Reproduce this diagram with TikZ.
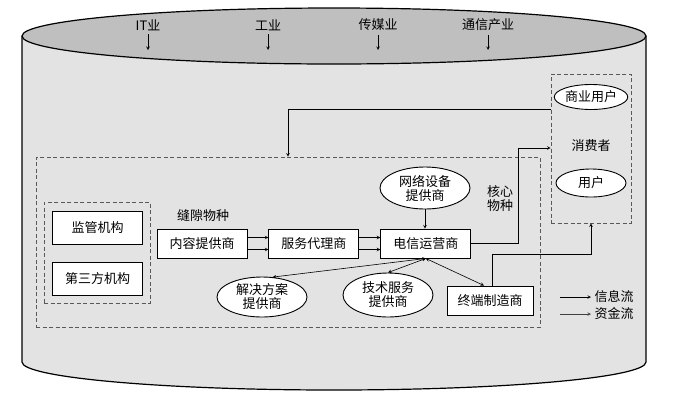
\documentclass[tikz,border=0pt]{standalone}
\usepackage{fontspec}
\newfontfamily\cjk{Noto Sans CJK SC}
\usetikzlibrary{positioning}
\usetikzlibrary{shapes.geometric}

\begin{document}
\begin{tikzpicture}[
    x=1pt, y=-1pt, % pixel-like units, y grows downwards
    >=stealth, % arrow head style
    node distance=21pt, % spacing of the value chain
    font=\cjk\fontsize{13}{14}\selectfont,
    % Styling for the nodes
    roleBox/.style={
        rectangle,
        draw,
        line width=0.9pt,
        fill=white,
        minimum width=90pt,
        minimum height=29pt,
        inner sep=2pt
    },
    roleOval/.style={
        ellipse,
        draw,
        line width=0.9pt,
        fill=white,
        minimum width=90pt,
        minimum height=42pt,
        inner sep=0pt,
        align=center
    },
    userOval/.style={roleOval, minimum width=70pt, minimum height=25pt},
    groupBox/.style={
        rectangle,
        draw=black!65,
        dash pattern=on 4pt off 2.5pt,
        line width=0.7pt,
        inner sep=0pt
    },
    flow/.style={->, line width=0.6pt},
    mutual/.style={<->, line width=0.6pt}
]
    \useasboundingbox (0,0) rectangle (690,400);

    % Industry cylinder
    \fill[black!11] (22,36) -- (22,362)
        arc[start angle=180, end angle=360, x radius=312pt, y radius=28pt]
        -- (646,36) -- cycle;
    \draw[line width=1.2pt] (22,36) -- (22,362)
        arc[start angle=180, end angle=360, x radius=312pt, y radius=28pt]
        -- (646,36);
    \draw[line width=1.2pt, fill=black!25] (334,36) ellipse[x radius=312pt, y radius=28pt];

    % Industries on the lid
    \foreach \name/\xpos/\label in {it/148/IT业, industry/268/工业, media/378/传媒业, telecom/488/通信产业} {
        \node (\name) at (\xpos,25) {\label};
        \coordinate (\name End) at (\xpos,50);
        \draw[flow] (\name) -- (\name End);
    }

    % Define Nodes
    \node[groupBox, minimum width=504pt, minimum height=170pt] (market) at (288,242) {};
    \node[groupBox, minimum width=80pt, minimum height=149pt] (consumer) at (591,148.5) {};
    \node[groupBox, minimum width=106pt, minimum height=101pt] (oversight) at (97,252.5) {};

    \node[roleBox, minimum height=33pt] (regulator) at (97.5,227.5) {监管机构};
    \node[roleBox, minimum height=33pt] (thirdParty) at (97.5,278.5) {第三方机构};

    \node[roleBox] (content) at (202,243.5) {内容提供商};
    \node[roleBox, right=of content] (agent) {服务代理商};
    \node[roleBox, right=of agent] (telecomOp) {电信运营商};
    \node[roleBox, minimum width=86pt] (maker) at (490,300.5) {终端制造商};

    \node[roleOval] (network) at (425,188) {网络设备\\提供商};
    \node[roleOval, minimum height=40pt] (solution) at (262,297) {解决方案\\提供商};
    \node[roleOval, minimum height=44pt] (tech) at (388,295) {技术服务\\提供商};

    \node[userOval] (bizUser) at (591,97) {商业用户};
    \node (consumerLabel) at (591,146) {消费者};
    \node[userOval, minimum height=28pt] (user) at (591,183) {用户};

    \node (gapLabel) at (203,216) {缝隙物种};
    \node[align=center] (coreLabel) at (500,199) {核心\\物种};

    % Draw Edges
    \draw[flow] ([yshift=-6pt]content.east) -- ([yshift=-6pt]agent.west);
    \draw[flow] ([yshift=6pt]content.east) -- ([yshift=6pt]agent.west);
    \draw[flow] ([yshift=-6pt]agent.east) -- ([yshift=-6pt]telecomOp.west);
    \draw[flow] ([yshift=6pt]agent.east) -- ([yshift=6pt]telecomOp.west);
    \draw[flow] (network.south) -- (network.south |- telecomOp.north);

    \draw[mutual] (telecomOp.south) -- (solution.62);
    \draw[mutual] (telecomOp.south) -- (tech.north);
    \draw[mutual] (telecomOp.south) -- ([xshift=-6pt]maker.north);

    \coordinate (coreBend) at (518,148);
    \draw[flow] (telecomOp.east) -| (coreBend) -- (consumer.west |- coreBend);

    \coordinate (makerBend) at (492,254);
    \draw[flow] ([xshift=2pt]maker.north) -- (makerBend) -| (consumer.south);

    \coordinate (bizOut) at (551,109);
    \draw[flow] (bizOut) -| (market.north);

    % Legend
    \coordinate (infoStart) at (560,297);
    \node[anchor=west] (infoLabel) at (591,297) {信息流};
    \draw[flow] (infoStart) -- (infoLabel.west);
    \coordinate (moneyStart) at (560,314);
    \node[anchor=west] (moneyLabel) at (591,314) {资金流};
    \draw[flow, black!75] (moneyStart) -- (moneyLabel.west);

\end{tikzpicture}
\end{document}
